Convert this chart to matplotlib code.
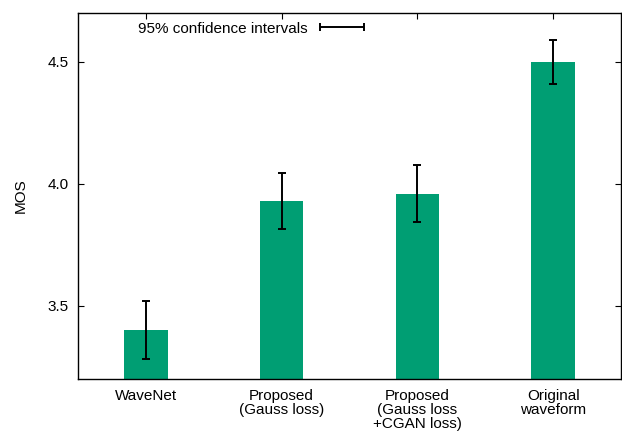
import matplotlib
matplotlib.use('Agg')
import matplotlib.pyplot as plt
import numpy as np
from matplotlib.container import ErrorbarContainer
from matplotlib.legend_handler import HandlerErrorbar

plt.rcParams['font.family'] = ['Liberation Sans', 'DejaVu Sans']

methods = ['WaveNet', 'Proposed\n(Gauss loss)', 'Proposed\n(Gauss loss\n+CGAN loss)', 'Original\nwaveform']
mos = [3.40, 3.93, 3.96, 4.50]
ci = [0.12, 0.115, 0.115, 0.09]

green = '#009e73'
fs = 11

fig = plt.figure(figsize=(6.22, 4.33), dpi=100)
ax = fig.add_axes([0.1254, 0.1247, 0.9984 - 0.1254, 0.97 - 0.1247])

x = np.arange(len(mos))
ax.bar(x, mos, width=0.32, color=green, zorder=2)
ax.errorbar(x, mos, yerr=ci, fmt='none', ecolor='black', elinewidth=1.4,
            capsize=3, capthick=1.4, zorder=3)

# dummy horizontal errorbar just for the key
key = ax.errorbar([np.nan], [np.nan], xerr=[1], fmt='none', ecolor='black',
                  elinewidth=1.4, capsize=3, capthick=1.4,
                  label='95% confidence intervals')

ax.set_xlim(-0.5, 3.5)
ax.set_ylim(3.2, 4.7)
ax.set_yticks([3.5, 4.0, 4.5])
ax.set_yticklabels(['3.5', '4.0', '4.5'])
ax.set_xticks(x)
ax.set_xticklabels(methods, fontsize=fs, linespacing=1.02)

ax.tick_params(axis='y', direction='in', left=True, right=True, length=4.5,
               width=0.8, labelsize=fs, pad=7)
ax.tick_params(axis='x', direction='in', bottom=False, top=True, length=4.5,
               width=0.8, labelsize=fs, pad=7)
for s in ax.spines.values():
    s.set_linewidth(1.0)

ax.set_ylabel('MOS', fontsize=fs)
ax.yaxis.set_label_coords(-0.092, 0.5)

ax.legend(handles=[key], loc='center left', bbox_to_anchor=(0.1105, 0.957),
          frameon=False, markerfirst=False, fontsize=fs, borderpad=0,
          borderaxespad=0, handlelength=3.0, handletextpad=0.75,
          handler_map={ErrorbarContainer: HandlerErrorbar(xerr_size=1.45)})

fig.savefig('out.png', dpi=100)
